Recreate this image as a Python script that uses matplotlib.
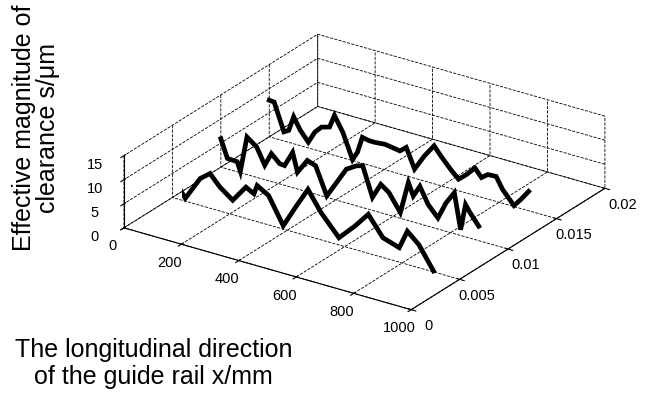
import numpy as np
import matplotlib.pyplot as plt

plt.rcParams['font.family'] = ['Liberation Sans', 'DejaVu Sans']
plt.rcParams['grid.color'] = 'k'
plt.rcParams['grid.linestyle'] = '--'
plt.rcParams['grid.linewidth'] = 0.6

# three measured traces, one per transverse position y
y_pos = [0.005, 0.01, 0.015]

x_front = [0, 45, 97, 131, 165, 210, 256, 284, 295, 335, 386, 432, 472, 517,
           580, 636, 682, 733, 790, 818, 858, 909]
z_front = [4.3, 0.6, 5.6, 7.2, 5.0, 3.0, 6.5, 5.6, 7.5, 6.1, 0.7, 5.6, 9.7, 5.7,
           1.5, 4.9, 8.1, 4.1, 3.0, 6.9, 4.8, 0.2]

x_mid = [0, 23, 57, 68, 91, 125, 153, 176, 205, 222, 250, 267, 301, 330, 369,
         437, 472, 494, 528, 557, 585, 625, 653, 670, 693, 722, 756, 784, 813,
         835, 852, 869, 898]
z_mid = [5.9, 2.2, 2.1, 0.3, 7.8, 6.3, 3.0, 5.8, 4.2, 4.1, 7.3, 3.5, 6.5, 5.9, 0.3,
         7.0, 8.3, 8.7, 2.7, 5.9, 4.7, 1.2, 7.9, 5.4, 7.8, 4.5, 2.3, 5.9, 8.5,
         1.2, 6.7, 5.2, 3.0]

x_back = [0, 17, 51, 68, 85, 108, 136, 159, 182, 210, 227, 256, 290, 307, 324,
          347, 369, 403, 455, 477, 506, 540, 574, 597, 631, 659, 688, 716, 739,
          761, 790, 812, 852, 875, 903]
z_back = [7.6, 7.5, 1.9, 2.5, 5.6, 3.2, 1.2, 3.7, 5.1, 5.6, 8.3, 5.3, 0.2, 2.0, 5.4,
          5.1, 5.1, 5.3, 4.8, 5.9, 1.9, 5.2, 7.9, 6.2, 4.0, 2.4, 3.9, 5.7, 4.1,
          5.1, 5.2, 2.9, 0.2, 1.8, 4.0]

x_ticks = [0, 200, 400, 600, 800, 1000]
y_ticks = [0, 0.005, 0.01, 0.015, 0.02]
y_labels = ['0', '0.005', '0.01', '0.015', '0.02']
z_ticks = [0, 5, 10, 15]

fig = plt.figure(figsize=(6.48, 4.12), dpi=100)
ax = fig.add_axes([0.125, 0.141, 0.86, 0.86], projection='3d')
ax.set_proj_type('ortho')
ax.view_init(elev=25, azim=-56)
ax.set_box_aspect((1, 1, 0.23), zoom=1.36)

for yv, xs, zs in zip(y_pos, [x_front, x_mid, x_back], [z_front, z_mid, z_back]):
    ax.plot(xs, [yv] * len(xs), zs, color='k', lw=3.4, solid_joinstyle='miter')

ax.set_xlim(0, 1000)
ax.set_ylim(0, 0.02)
ax.set_zlim(0, 15)
ax.set_xticks(x_ticks)
ax.set_yticks(y_ticks)
ax.set_yticklabels(y_labels)
ax.set_zticks(z_ticks)
ax.zaxis.set_ticks_position('lower')

for axis in (ax.xaxis, ax.yaxis, ax.zaxis):
    axis.set_pane_color((1, 1, 1, 1))
    axis.pane.set_edgecolor('w')
    axis.line.set_color('k')
    axis.line.set_linewidth(0.8)
ax.tick_params(labelsize=10.5, pad=0)

fig.text(0.055, 0.69, 'Effective magnitude of\nclearance s/μm', rotation=90,
         ha='center', va='center', fontsize=18, linespacing=1.0)
fig.text(0.237, 0.118, 'The longitudinal direction\nof the guide rail x/mm',
         ha='center', va='center', fontsize=18, linespacing=1.15)

fig.savefig('out.png', dpi=100)
